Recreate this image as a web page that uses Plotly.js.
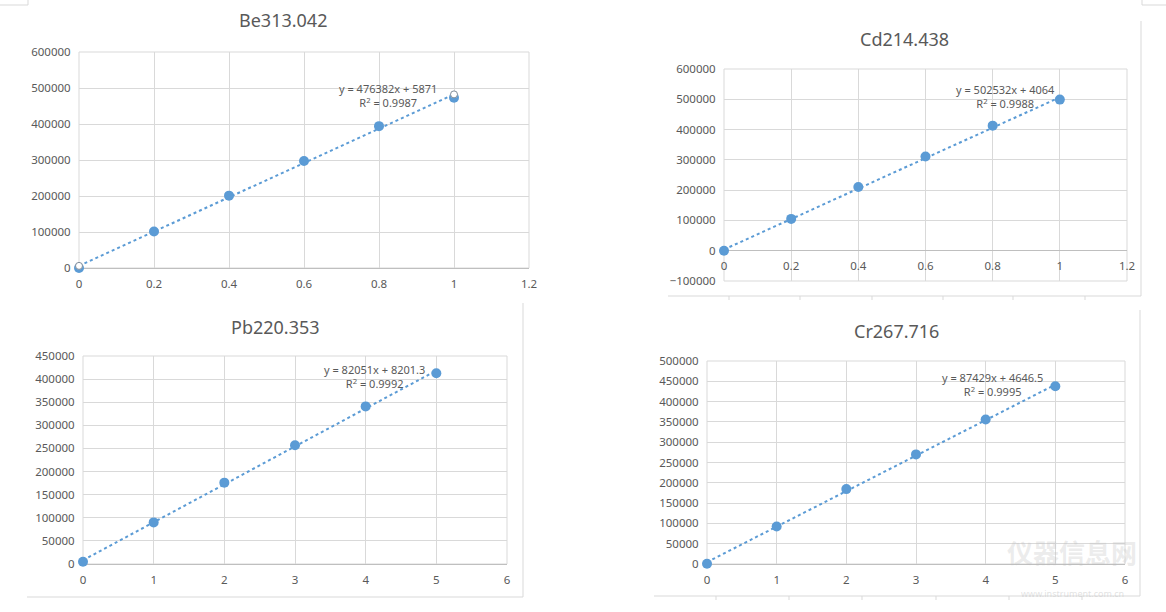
<!DOCTYPE html>
<html>
<head>
<meta charset="utf-8">
<script src="https://cdn.plot.ly/plotly-3.0.1.min.js"></script>
<style>
  html, body { margin: 0; padding: 0; background: #ffffff; }
  #chart { width: 1166px; height: 612px; }
</style>
</head>
<body>
<div id="chart"></div>
<script>
// ---- data ----
const chartTitles = ["Be313.042", "Cd214.438", "Pb220.353", "Cr267.716"];

const beX = [0, 0.2, 0.4, 0.6, 0.8, 1];
const beY = [0, 101500, 201000, 297000, 394000, 473000];

const cdX = [0, 0.2, 0.4, 0.6, 0.8, 1];
const cdY = [0, 105000, 210500, 311000, 413000, 499000];

const pbX = [0, 1, 2, 3, 4, 5];
const pbY = [4800, 90000, 176000, 257000, 341000, 412500];

const crX = [0, 1, 2, 3, 4, 5];
const crY = [500, 92500, 184500, 270000, 356000, 438000];

// trendline equations as printed on the charts
const slopes = [476382, 502532, 82051, 87429];
const intercepts = [5871, 4064, 8201.3, 4646.5];
const r2 = ["0.9987", "0.9988", "0.9992", "0.9995"];
const eqTexts = ["476382x + 5871", "502532x + 4064", "82051x + 8201.3", "87429x + 4646.5"];

// ---- layout helpers ----
const W = 1166, H = 612;
const px = v => v / W;
const py = v => 1 - v / H;

const BLUE = "#5B9BD5";
const GRID = "#d9d9d9";
const AXIS = "#bfbfbf";
const TXT = "#595959";
const FONT = "Noto Sans, Open Sans, sans-serif";

const sets = [
  {x: beX, y: beY, xa: "x",  ya: "y"},
  {x: cdX, y: cdY, xa: "x2", ya: "y2"},
  {x: pbX, y: pbY, xa: "x3", ya: "y3"},
  {x: crX, y: crY, xa: "x4", ya: "y4"}
];

const traces = [];
sets.forEach((s, i) => {
  const x0 = Math.min(...s.x), x1 = Math.max(...s.x);
  const tx = [x0, x1];
  const ty = tx.map(v => slopes[i] * v + intercepts[i]);
  traces.push({
    x: tx, y: ty, xaxis: s.xa, yaxis: s.ya, type: "scatter", mode: "lines",
    line: {color: BLUE, width: 2, dash: "dot"}, hoverinfo: "skip", showlegend: false,
    cliponaxis: false
  });
  traces.push({
    x: s.x, y: s.y, xaxis: s.xa, yaxis: s.ya, type: "scatter", mode: "markers",
    marker: {color: BLUE, size: 10}, showlegend: false, cliponaxis: false
  });
  if (i === 0) {
    // selection handles at trendline ends (Be chart)
    traces.push({
      x: tx, y: ty, xaxis: s.xa, yaxis: s.ya, type: "scatter", mode: "markers",
      marker: {color: "#ffffff", size: 7, line: {color: "#7f8c99", width: 1}},
      hoverinfo: "skip", showlegend: false, cliponaxis: false
    });
  }
});

function xAxis(dom, range, dtick, anchor, extra) {
  return Object.assign({
    domain: dom, range: range, dtick: dtick, anchor: anchor,
    showgrid: true, gridcolor: GRID, gridwidth: 1, zeroline: false,
    showline: false, ticks: "outside", ticklen: 5, tickcolor: "rgba(0,0,0,0)",
    tickfont: {family: FONT, size: 11.5, color: TXT}, fixedrange: true
  }, extra || {});
}
function yAxis(dom, range, dtick, anchor) {
  return {
    domain: dom, range: range, dtick: dtick, anchor: anchor, tickformat: "d",
    showgrid: true, gridcolor: GRID, gridwidth: 1,
    zeroline: true, zerolinecolor: AXIS, zerolinewidth: 1,
    showline: false, ticks: "outside", ticklen: 5, tickcolor: "rgba(0,0,0,0)",
    tickfont: {family: FONT, size: 11.5, color: TXT}, fixedrange: true
  };
}

const titlePos = [[283, 20], [904, 39], [275, 327], [896, 331]];
const eqPos = [[388, 95], [1005, 96], [374, 376], [992, 384]];

const annotations = [];
chartTitles.forEach((t, i) => {
  annotations.push({
    text: t, xref: "paper", yref: "paper", x: px(titlePos[i][0]), y: py(titlePos[i][1]),
    xanchor: "center", yanchor: "middle", showarrow: false,
    font: {family: FONT, size: 18, color: TXT}
  });
  annotations.push({
    text: "y = " + eqTexts[i] + "<br>R<sup>2</sup> = " + r2[i],
    xref: "paper", yref: "paper", x: px(eqPos[i][0]), y: py(eqPos[i][1]),
    xanchor: "center", yanchor: "middle", align: "center", showarrow: false,
    font: {family: FONT, size: 11, color: TXT}
  });
});
// watermark (faint, as in the reference)
annotations.push({
  text: "<b>仪器信息网</b>", xref: "paper", yref: "paper", x: px(1072), y: py(551),
  xanchor: "center", yanchor: "middle", showarrow: false,
  font: {family: "Noto Sans CJK SC, sans-serif", size: 26, color: "rgba(190,190,190,0.3)"}
});
annotations.push({
  text: "www.instrument.com.cn", xref: "paper", yref: "paper", x: px(1072), y: py(593),
  xanchor: "center", yanchor: "middle", showarrow: false,
  font: {family: FONT, size: 9, color: "rgba(190,190,190,0.45)"}
});

// frame lines of the pasted chart images
const FR = "#d9d9d9";
function seg(x0, y0, x1, y1, c) {
  return {type: "line", xref: "paper", yref: "paper", x0: px(x0), y0: py(y0), x1: px(x1), y1: py(y1),
          line: {color: c || FR, width: 1}, layer: "below"};
}
const shapes = [
  seg(0, 5, 28, 5), seg(28, 0, 28, 5),
  seg(1142, 0, 1142, 5), seg(1142, 5, 1166, 5),
  seg(668, 296, 1141, 296), seg(1141, 21, 1141, 296),
  seg(27, 597, 523, 597), seg(523, 303, 523, 597),
  seg(654, 596, 1140, 596), seg(1140, 310, 1140, 596)
];
[729, 800, 872, 943, 1013, 1085].forEach(v => shapes.push(seg(v, 296, v, 300)));
[716, 789, 862, 936, 1009, 1082].forEach(v => shapes.push(seg(v, 596, v, 600)));
// plot-area borders (coincide with the edge gridlines)
["", "2", "3", "4"].forEach(k => {
  shapes.push({type: "rect", xref: "x" + k + " domain", yref: "y" + k + " domain",
    x0: 0, x1: 1, y0: 0, y1: 1, line: {color: GRID, width: 1}, layer: "below"});
});

const layout = {
  width: W, height: H,
  margin: {l: 0, r: 0, t: 0, b: 0},
  paper_bgcolor: "#ffffff", plot_bgcolor: "#ffffff",
  showlegend: false,
  xaxis:  xAxis([px(79), px(529)], [0, 1.2], 0.2, "y"),
  yaxis:  yAxis([py(268), py(52)], [0, 600000], 100000, "x"),
  xaxis2: xAxis([px(724), px(1127)], [0, 1.2], 0.2, "free", {position: py(250)}),
  yaxis2: yAxis([py(281), py(69)], [-100000, 600000], 100000, "x2"),
  xaxis3: xAxis([px(83), px(507)], [0, 6], 1, "y3"),
  yaxis3: yAxis([py(564), py(356)], [0, 450000], 50000, "x3"),
  xaxis4: xAxis([px(707), px(1125)], [0, 6], 1, "y4"),
  yaxis4: yAxis([py(564), py(361)], [0, 500000], 50000, "x4"),
  annotations: annotations,
  shapes: shapes
};

Plotly.newPlot("chart", traces, layout, {displayModeBar: false, staticPlot: true});
</script>
</body>
</html>
